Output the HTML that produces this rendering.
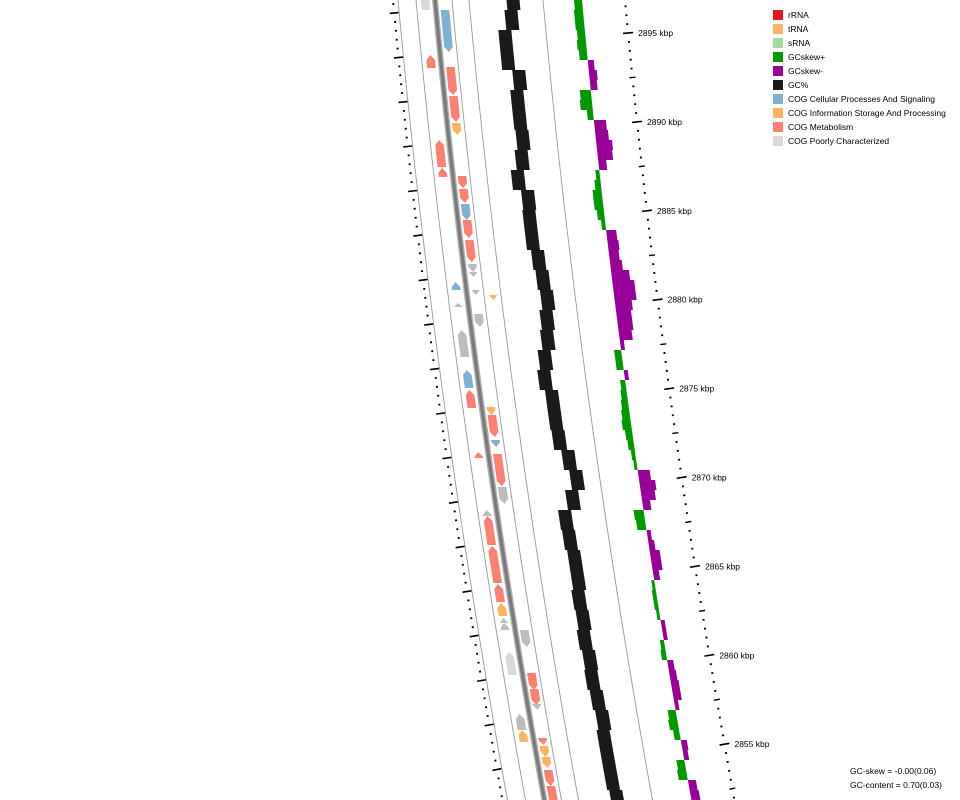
<!DOCTYPE html>
<html><head><meta charset="utf-8"><style>
html,body{margin:0;padding:0;background:#fff;}
svg{display:block;font-family:"Liberation Sans","DejaVu Sans",sans-serif;}
</style></head><body>
<svg id="chart" width="960" height="800" viewBox="0 0 960 800" xmlns="http://www.w3.org/2000/svg">
<g id="rings"></g>
<g id="ticks"></g>
<g id="genes"></g>
<g id="gc"></g>
<g id="skew"></g>
<g id="legend" font-size="8.5" fill="#000">
 <g><rect x="773" y="10" width="10" height="10" fill="#e31a1c"/><text x="788" y="18">rRNA</text></g>
 <g><rect x="773" y="24" width="10" height="10" fill="#fdb462"/><text x="788" y="32">tRNA</text></g>
 <g><rect x="773" y="38" width="10" height="10" fill="#a6dba0"/><text x="788" y="46">sRNA</text></g>
 <g><rect x="773" y="52" width="10" height="10" fill="#009900"/><text x="788" y="60">GCskew+</text></g>
 <g><rect x="773" y="66" width="10" height="10" fill="#990099"/><text x="788" y="74">GCskew-</text></g>
 <g><rect x="773" y="80" width="10" height="10" fill="#1a1a1a"/><text x="788" y="88">GC%</text></g>
 <g><rect x="773" y="94" width="10" height="10" fill="#80b1d3"/><text x="788" y="102">COG Cellular Processes And Signaling</text></g>
 <g><rect x="773" y="108" width="10" height="10" fill="#fdb462"/><text x="788" y="116">COG Information Storage And Processing</text></g>
 <g><rect x="773" y="122" width="10" height="10" fill="#fb8072"/><text x="788" y="130">COG Metabolism</text></g>
 <g><rect x="773" y="136" width="10" height="10" fill="#d9d9d9"/><text x="788" y="144">COG Poorly Characterized</text></g>
</g>
<text x="850" y="774" font-size="8.5">GC-skew = -0.00(0.06)</text>
<text x="850" y="788" font-size="8.5">GC-content = 0.70(0.03)</text>
</svg>
<script>
// ---- data ----
const kbpLabels = [2895, 2890, 2885, 2880, 2875, 2870, 2865, 2860, 2855];
const gcValues = [0.726,0.720,0.704,0.704,0.724,0.716,0.716,0.718,0.712,0.700,0.716,0.714,0.714,0.722,0.726,0.730,0.724,0.720,0.710,0.704,0.714,0.714,0.716,0.730,0.740,0.726,0.706,0.708,0.712,0.712,0.708,0.710,0.706,0.710,0.708,0.712,0.716,0.712,0.712,0.712,0.716];
const skewValues = [0.04,0.045,0.045,0.04,0.045,0.04,-0.03,-0.04,-0.035,0.055,0.06,0.03,-0.06,-0.065,-0.08,-0.075,-0.04,0.02,0.03,0.045,0.045,0.035,0.02,-0.05,-0.055,-0.05,-0.06,-0.09,-0.11,-0.11,-0.085,-0.075,-0.075,-0.065,-0.02,0.035,0.035,-0.02,0.025,0.03,0.035,0.04,0.045,0.035,0.03,0.02,0.015,-0.06,-0.08,-0.07,-0.04,0.05,0.045,-0.02,-0.03,-0.05,-0.05,-0.03,0.015,0.02,0.02,0.015,-0.02,-0.02,0.02,0.025,-0.03,-0.035,-0.04,-0.04,-0.02,0.04,0.045,0.03,-0.03,-0.025,0.04,0.045,-0.04,-0.045];
const geneStart = [-5,10,55,67,96,123,140,168,176,189,204,220,240,264,272,282,290,295,303,314,330,370,390,407,415,440,452,454,487,510,516,546,584,603,618,623,630,652,673,689,704,714,730,738,746,757,770,786];
const geneEnd   = [10,52,68,95,122,135,167,177,188,203,220,238,262,272,277,290,295,300,307,327,357,388,408,415,437,447,458,486,504,516,545,583,602,616,623,630,647,675,690,705,710,730,742,745,757,768,786,810];
const geneLane  = [0,1,0,1,1,1,0,0,1,1,1,1,1,1,1,0,1,2,0,1,0,0,0,1,1,1,0,1,1,0,0,0,0,0,0,0,1,0,1,1,1,0,0,1,1,1,1,1];
const geneDir   = [1,-1,1,-1,-1,-1,1,1,-1,-1,-1,-1,-1,-1,-1,1,-1,-1,1,-1,1,1,1,-1,-1,-1,1,-1,-1,1,1,1,1,1,1,1,-1,1,-1,-1,-1,1,1,-1,-1,-1,-1,-1];
const geneCat   = ['P','C','M','M','M','I','M','M','M','M','C','M','M','U','U','C','U','I','U','U','U','C','M','I','M','C','M','M','U','U','M','M','M','I','U','U','U','P','M','M','U','U','I','M','I','I','M','M'];

// ---- geometry ----
const NS='http://www.w3.org/2000/svg';
const catColor={M:'#fb8072',C:'#80b1d3',I:'#fdb462',P:'#d9d9d9',U:'#bdbdbd'};
function X(off,y){return off+0.092*y+5.6e-5*y*y;}
function slope(y){return 0.092+1.12e-4*y;}
function pt(off,y){return X(off,y).toFixed(2)+','+y.toFixed(2);}
function mk(tag,attrs,parent){const e=document.createElementNS(NS,tag);for(const k in attrs)e.setAttribute(k,attrs[k]);parent.appendChild(e);return e;}
const kbpToY = k => 33 + (2895-k)*17.78;
const gcToOff = v => 500 + (v-0.70)*500;
const skewToPx = v => v*200;
const skewBase = 582;

const rings=document.getElementById('rings');
function ringLine(off,w,col,name){
  let p=[];for(let y=-10;y<=810;y+=10)p.push(pt(off,y));
  const e=mk('polyline',{points:p.join(' '),fill:'none',stroke:col,'stroke-width':w},rings);
  
  
}
ringLine(398,0.9,'#999','ring-line-1');
ringLine(416,0.9,'#999','ring-line-2');
ringLine(435,6,'#b0b0b0','axis-ring-halo');
ringLine(435,3.2,'#7a7a7a','axis-ring');
ringLine(452,0.9,'#999','ring-line-3');
ringLine(469,0.9,'#999','ring-line-4');
ringLine(543,0.9,'#999','ring-line-5');

const ticks=document.getElementById('ticks');
function tick(off,y,L,w,name){
  const s=slope(y),n=Math.sqrt(1+s*s),ux=1/n,uy=-s/n,x=X(off,y);
  const e=mk('line',{x1:x-ux*L/2,y1:y-uy*L/2,x2:x+ux*L/2,y2:y+uy*L/2,stroke:'#000','stroke-width':w},ticks);
  
  
}
for(let n=-4;n<=90;n++){
  const y=kbpToY(2895)+n*8.89; if(y<-5||y>805)continue;
  if(n%10===0) tick(625,y,10,1.6,'outer-major-tick');
  else if(n%5===0) tick(625,y,6,1.4,'outer-mid-tick');
  else tick(625,y,2,1.8,'outer-minor-tick');
}
kbpLabels.forEach(k=>{
  const y=kbpToY(k);
  const t=mk('text',{x:X(625,y)+10,y:y+3,'font-size':'8.5'},ticks);
  t.textContent=k+' kbp';
  
  
});
for(let n=-2;n<=92;n++){
  const y=13+n*8.9; if(y<-5||y>805)continue;
  if(n%5===0) tick(393,y,9,1.6,'inner-major-tick');
  else tick(393,y,2,1.8,'inner-minor-tick');
}

const genes=document.getElementById('genes');
const laneOff=[425,444,461];
geneStart.forEach((s,i)=>{
  const e=geneEnd[i],c=laneOff[geneLane[i]],h=4.3,len=e-s;
  const head=Math.min(5,len);
  let pts;
  if(geneDir[i]===1){
    const b=s+head;
    pts=[pt(c,s),pt(c+h,b),pt(c+h,e),pt(c-h,e),pt(c-h,b)];
  } else {
    const b=e-head;
    pts=[pt(c-h,s),pt(c+h,s),pt(c+h,b),pt(c,e),pt(c-h,b)];
  }
  const g=mk('polygon',{points:pts.join(' '),fill:catColor[geneCat[i]]},genes);
  
  
});

const gcG=document.getElementById('gc');
gcValues.forEach((v,i)=>{
  const y0=i*20-10,y1=y0+20,c=gcToOff(v),hw=6.5;
  const p=mk('polygon',{points:[pt(c-hw,y0),pt(c+hw,y0),pt(c+hw,y1),pt(c-hw,y1)].join(' '),fill:'#1a1a1a'},gcG);
  
  
});

const skG=document.getElementById('skew');
skewValues.forEach((v,i)=>{
  const y0=i*10,y1=y0+10,w=skewToPx(v);
  const a=skewBase,b=skewBase-w;
  const p=mk('polygon',{points:[pt(a,y0),pt(b,y0),pt(b,y1),pt(a,y1)].join(' '),fill:v>=0?'#009900':'#990099'},skG);
  
  
});
</script>
</body></html>
